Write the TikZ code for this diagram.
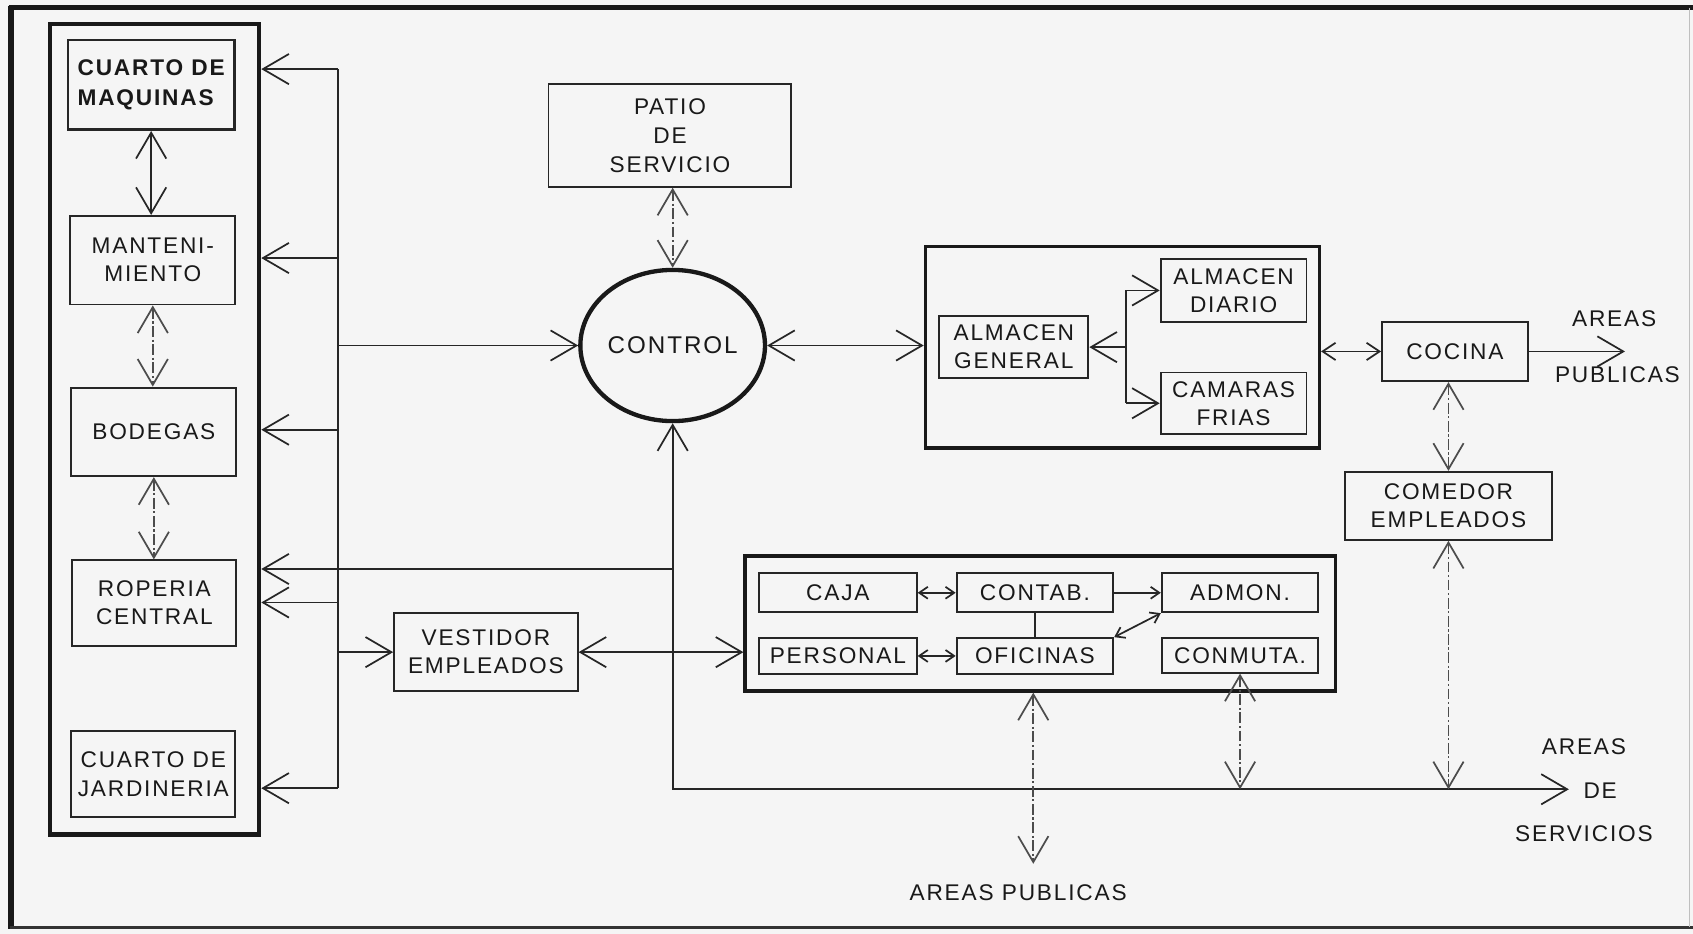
\documentclass[tikz,border=0pt]{standalone}
\usepackage{fontspec}
\setmainfont{Liberation Sans}
\newfontfamily\lblfont{Liberation Sans}[LetterSpace=8]
\usetikzlibrary{arrows.meta,shapes.geometric}
\tikzset{
  bigtip/.tip={Straight Barb[length=12pt,width=14pt]},
  midtip/.tip={Straight Barb[length=6pt,width=8pt]},
  smalltip/.tip={Straight Barb[length=4pt,width=5.5pt]},
  lbl/.style={font=\lblfont\fontsize{10.5}{13}\selectfont, text=black!90},
  box/.style={draw=black!85, line width=0.9pt, inner sep=0pt, align=center, lbl},
  grp/.style={draw=black!90, line width=1.5pt, inner sep=0pt},
  conn/.style={draw=black!85, line width=0.8pt},
  dconn/.style={draw=black!70, line width=0.8pt, dash pattern=on 5pt off 1.2pt on 1pt off 1.2pt},
  txt/.style={lbl, inner sep=0pt, align=center},
}
% \mkbox[options]{name}{x1}{y1}{x2}{y2}{text}
\newcommand\mkbox[7][]{%
  \node[box,#1, minimum width={(#5-#3)*0.5pt}, minimum height={(#6-#4)*0.5pt}]
    (#2) at ({(#3+#5)/2},{(#4+#6)/2}) {#7};}
\begin{document}
\begin{tikzpicture}[x=0.5pt,y=-0.5pt]
\useasboundingbox (0,0) rectangle (1568,865);
\fill[black!4] (0,0) rectangle (1568,865);
% outer frame
\draw[line width=2.2pt, black!90] (8,7) -- (1568,7);
\draw[line width=2.6pt, black!90] (10,6) -- (10,860);
\draw[line width=1.2pt, black!80] (9,859) -- (1568,859);
\draw[line width=0.4pt, black!25] (1565,7) -- (1565,859);

% left group
\mkbox[grp, line width=2pt]{lgroup}{46}{22}{240}{773}{}
\mkbox[line width=1.3pt, align=left, font=\lblfont\bfseries\fontsize{10.5}{13.5}\selectfont]{maq}{63}{37}{217}{120}{CUARTO DE\\MAQUINAS}
\mkbox{mant}{65}{200}{218}{282}{MANTENI-\\MIENTO}
\mkbox{bod}{66}{359}{219}{441}{BODEGAS}
\mkbox{rop}{67}{519}{219}{598}{ROPERIA\\CENTRAL}
\mkbox{jard}{66}{677}{218}{757}{CUARTO DE\\JARDINERIA}

% centre
\mkbox[font=\lblfont\fontsize{10.5}{13.5}\selectfont]{patio}{508}{78}{733}{173}{PATIO\\DE\\SERVICIO}
\node[draw=black!90, line width=2pt, ellipse, minimum width=85.5pt, minimum height=70pt, inner sep=0pt, lbl, font=\lblfont\fontsize{11.2}{13}\selectfont] (control) at (623,320) {CONTROL};
\mkbox{vest}{365}{568}{535}{640}{VESTIDOR\\EMPLEADOS}

% almacen group
\mkbox[grp]{agroup}{857}{228}{1222}{415}{}
\mkbox{agen}{870}{293}{1008}{350}{ALMACEN\\GENERAL}
\mkbox{adia}{1075}{240}{1210}{298}{ALMACEN\\DIARIO}
\mkbox{acam}{1075}{345}{1210}{402}{CAMARAS\\FRIAS}

% right
\mkbox{cocina}{1280}{298}{1415}{353}{COCINA}
\mkbox{comedor}{1246}{437}{1437}{500}{COMEDOR\\EMPLEADOS}

% oficinas group
\mkbox[grp]{ofgroup}{690}{515}{1237}{640}{}
\mkbox{caja}{703}{531}{849}{567}{CAJA}
\mkbox{contab}{886}{531}{1031}{567}{CONTAB.}
\mkbox{admon}{1076}{531}{1221}{567}{ADMON.}
\mkbox{pers}{703}{591}{849}{624}{PERSONAL}
\mkbox{ofic}{886}{591}{1031}{624}{OFICINAS}
\mkbox{conm}{1076}{591}{1221}{623}{CONMUTA.}

% free labels
\node[txt] (apr1) at (1495,295) {AREAS};
\node[txt] (apr2) at (1498,347) {PUBLICAS};
\node[txt] (asv1) at (1467,692) {AREAS};
\node[txt] (asv2) at (1482,732) {DE};
\node[txt] (asv3) at (1467,772) {SERVICIOS};
\node[txt] (apb) at (943,827) {AREAS PUBLICAS};

% bus
\coordinate (j1) at (313,64);
\coordinate (j2) at (313,239);
\coordinate (jc) at (313,320);
\coordinate (j3) at (313,398);
\coordinate (j4) at (313,558);
\coordinate (jv) at (313,604);
\coordinate (j5) at (313,730);
\draw[conn] (j1) -- (j5);
\foreach \j in {j1,j2,j3,j4,j5} \draw[conn,-bigtip] (\j) -- (\j -| lgroup.east);
\draw[conn,-bigtip] (jc) -- (control.west);
\draw[conn,-bigtip] (jv) -- (vest.west);

% left column
\draw[conn, bigtip-bigtip] (maq.south) -- (maq.south |- mant.north);
\draw[dconn, bigtip-bigtip] (mant.south) -- (mant.south |- bod.north);
\draw[dconn, bigtip-bigtip] (bod.south) -- (bod.south |- rop.north);

% control vertical and service line
\coordinate (c1) at (623,527);
\coordinate (c2) at (623,731);
\coordinate (serv) at (1453,731);
\draw[conn, bigtip-bigtip] (control.south) -- (c2) -- (serv);
\draw[conn,-bigtip] (c1) -- (c1 -| lgroup.east);

% patio
\draw[dconn, bigtip-bigtip] (control.north |- patio.south) -- (control.north);

% control - almacen
\draw[conn, bigtip-bigtip] (control.east) -- (control.east -| agroup.west);

% almacen internal
\coordinate (ab) at (1043,321.5);
\coordinate (abt) at (1043,269);
\coordinate (abb) at (1043,373.5);
\draw[conn] (abt) -- (abb);
\draw[conn,-bigtip] (ab) -- (agen.east);
\draw[conn,-bigtip] (abt) -- (adia.west);
\draw[conn,-bigtip] (abb) -- (acam.west);

% cocina
\coordinate (apt) at (1505,325.5);
\draw[conn, midtip-midtip] (agroup.east |- cocina.west) -- (cocina.west);
\draw[conn,-bigtip] (cocina.east) -- (apt);
\draw[dconn, bigtip-bigtip] (comedor.north |- cocina.south) -- (comedor.north);
\draw[dconn, bigtip-bigtip] (comedor.south) -- (comedor.south |- serv);

% oficinas
\draw[dconn, bigtip-bigtip] (conm.south) -- (conm.south |- serv);
\coordinate (apbt) at (957,800);
\draw[dconn, bigtip-bigtip] (apbt |- ofgroup.south) -- (apbt);
\draw[conn, bigtip-bigtip] (vest.east) -- (vest.east -| ofgroup.west);
\draw[conn, smalltip-smalltip] (caja.east) -- (contab.west);
\draw[conn, -smalltip] (contab.east) -- (admon.west);
\draw[conn] (contab.south) -- (ofic.north);
\draw[conn, smalltip-smalltip] (ofic.north east) -- (admon.south west);
\draw[conn, smalltip-smalltip] (pers.east) -- (ofic.west);
\end{tikzpicture}
\end{document}
